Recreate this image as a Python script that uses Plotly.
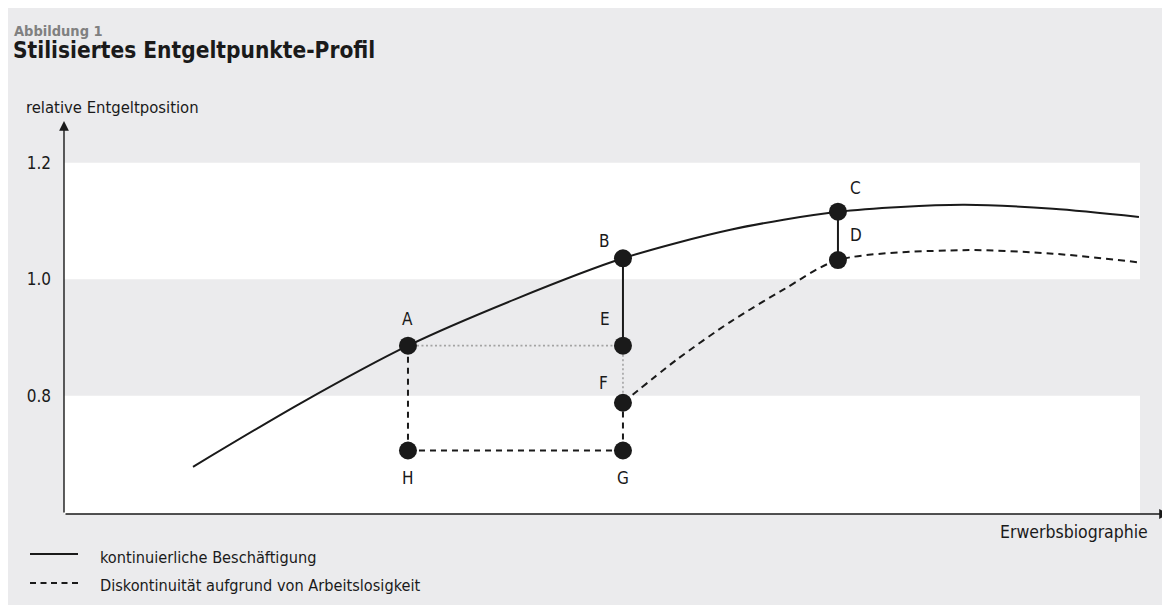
import plotly.graph_objects as go

# ---- data ----
solid_x = [10, 15, 20, 25, 30, 35, 40, 45.8, 50, 54]
solid_y = [0.678, 0.787, 0.886, 0.966, 1.036, 1.085, 1.116, 1.128, 1.121, 1.107]

dash_x = [30, 32.5, 35, 37.5, 40, 45.8, 50, 54]
dash_y = [0.788, 0.862, 0.927, 0.983, 1.033, 1.050, 1.044, 1.029]

point_labels = ["A", "B", "C", "D", "E", "F", "G", "H"]
point_x = [20, 30, 40, 40, 30, 30, 30, 20]
point_y = [0.886, 1.036, 1.116, 1.033, 0.886, 0.788, 0.706, 0.706]

y_tickvals = [0.8, 1.0, 1.2]
y_ticktext = ["0.8", "1.0", "1.2"]

title_small = "Abbildung 1"
title_main = "Stilisiertes Entgeltpunkte-Profil"
y_title = "relative Entgeltposition"
x_title = "Erwerbsbiographie"
legend_labels = ["kontinuierliche Beschäftigung", "Diskontinuität aufgrund von Arbeitslosigkeit"]

# ---- layout geometry (page has an 8px body margin) ----
W, H = 1162, 597
PL, PR, PT, PB = 64, 1140, 122, 514      # plot area in page pixels
L, R, T, B = PL - 8, 1170 - PR, PT - 8, 605 - PB
X_RANGE = [4, 54.05]
Y_RANGE = [0.597, 1.270]

def px(p):
    return (p - PL) / (PR - PL)

def py(p):
    return (PB - p) / (PB - PT)

FONT = "Liberation Sans Narrow, Arial Narrow, DejaVu Sans Condensed, sans-serif"
INK = "#1a1a1a"
GRAY_BG = "#ebebed"
DOT_GRAY = "#a3a3a3"

P = dict(zip(point_labels, zip(point_x, point_y)))

fig = go.Figure()

def seg(a, b, color, dash, width):
    fig.add_trace(go.Scatter(
        x=[P[a][0], P[b][0]], y=[P[a][1], P[b][1]], mode="lines",
        line=dict(color=color, dash=dash, width=width),
        hoverinfo="skip", showlegend=False))

# dotted grey guides
seg("A", "E", DOT_GRAY, "2px,2.5px", 1.6)
seg("E", "F", DOT_GRAY, "2px,2.5px", 1.6)
# dashed black path A-H-G-F
seg("A", "H", INK, "6px,5px", 2)
seg("H", "G", INK, "6px,5px", 2)
seg("G", "F", INK, "6px,5px", 2)
# solid drops
seg("B", "E", INK, "solid", 2)
seg("C", "D", INK, "solid", 2)

fig.add_trace(go.Scatter(x=solid_x, y=solid_y, mode="lines",
                         line=dict(color=INK, width=2, shape="spline", smoothing=0.8),
                         name=legend_labels[0], showlegend=False))
fig.add_trace(go.Scatter(x=dash_x, y=dash_y, mode="lines",
                         line=dict(color=INK, width=2, dash="7px,5px", shape="spline", smoothing=0.8),
                         name=legend_labels[1], showlegend=False))

fig.add_trace(go.Scatter(x=point_x, y=point_y, mode="markers",
                         marker=dict(size=18, color=INK), showlegend=False, hoverinfo="skip"))

# label offsets (pixels)
offsets = {"A": (0, 27), "B": (-18, 17), "C": (18, 24), "D": (18, 25),
           "E": (-18, 27), "F": (-19, 20), "G": (0, -27), "H": (0, -27)}
annotations = []
for lab, x, y in zip(point_labels, point_x, point_y):
    dx, dy = offsets[lab]
    annotations.append(dict(x=x, y=y, xref="x", yref="y", text=lab, showarrow=False,
                            xshift=dx, yshift=dy, font=dict(family=FONT, size=17, color=INK)))

# titles
annotations.append(dict(x=px(12), y=py(31), xref="paper", yref="paper", text="<b>" + title_small + "</b>",
                        showarrow=False, xanchor="left", yanchor="middle",
                        font=dict(family=FONT, size=14.5, color="#808080")))
annotations.append(dict(x=px(11), y=py(50), xref="paper", yref="paper", text="<b>" + title_main + "</b>",
                        showarrow=False, xanchor="left", yanchor="middle",
                        font=dict(family=FONT, size=22.5, color=INK)))
annotations.append(dict(x=px(24), y=py(107), xref="paper", yref="paper", text=y_title,
                        showarrow=False, xanchor="left", yanchor="middle",
                        font=dict(family=FONT, size=16.5, color=INK)))
annotations.append(dict(x=px(1150), y=py(532), xref="paper", yref="paper", text=x_title,
                        showarrow=False, xanchor="right", yanchor="middle",
                        font=dict(family=FONT, size=17.5, color=INK)))
# legend texts
for lab, yy in zip(legend_labels, [557, 585]):
    annotations.append(dict(x=px(98), y=py(yy), xref="paper", yref="paper", text=lab,
                            showarrow=False, xanchor="left", yanchor="middle",
                            font=dict(family=FONT, size=16.2, color=INK)))

# axis arrows
annotations.append(dict(x=px(1169), y=0, xref="paper", yref="paper", text="", showarrow=True,
                        ax=-(1169 - PL), ay=0, axref="pixel", ayref="pixel",
                        arrowhead=2, arrowsize=1.4, arrowwidth=1.4, arrowcolor=INK, standoff=0))
annotations.append(dict(x=0, y=py(121), xref="paper", yref="paper", text="", showarrow=True,
                        ax=0, ay=(PB - 121), axref="pixel", ayref="pixel",
                        arrowhead=2, arrowsize=1.4, arrowwidth=1.4, arrowcolor=INK, standoff=0))

shapes = [
    # white bands
    dict(type="rect", xref="x", yref="y", x0=X_RANGE[0], x1=X_RANGE[1], y0=1.0, y1=1.2,
         fillcolor="white", line=dict(width=0), layer="below"),
    dict(type="rect", xref="x", yref="y", x0=X_RANGE[0], x1=X_RANGE[1], y0=Y_RANGE[0], y1=0.8,
         fillcolor="white", line=dict(width=0), layer="below"),
    # legend samples
    dict(type="line", xref="paper", yref="paper", x0=px(30), x1=px(78), y0=py(554), y1=py(554),
         line=dict(color=INK, width=2)),
    dict(type="line", xref="paper", yref="paper", x0=px(30), x1=px(78), y0=py(583), y1=py(583),
         line=dict(color=INK, width=2, dash="6px,4.5px")),
]

fig.update_layout(
    width=W, height=H, margin=dict(l=L, r=R, t=T, b=B),
    paper_bgcolor=GRAY_BG, plot_bgcolor=GRAY_BG,
    showlegend=False, annotations=annotations, shapes=shapes,
    font=dict(family=FONT, size=17, color=INK),
    xaxis=dict(range=X_RANGE, showgrid=False, zeroline=False, showticklabels=False,
               showline=False, fixedrange=True),
    yaxis=dict(range=Y_RANGE, showgrid=False, zeroline=False, tickvals=y_tickvals,
               ticktext=y_ticktext, ticks="", showline=False, ticklabelstandoff=12,
               tickfont=dict(family=FONT, size=17, color=INK), fixedrange=True),
)

fig.write_html("out.html", config={"displayModeBar": False})
